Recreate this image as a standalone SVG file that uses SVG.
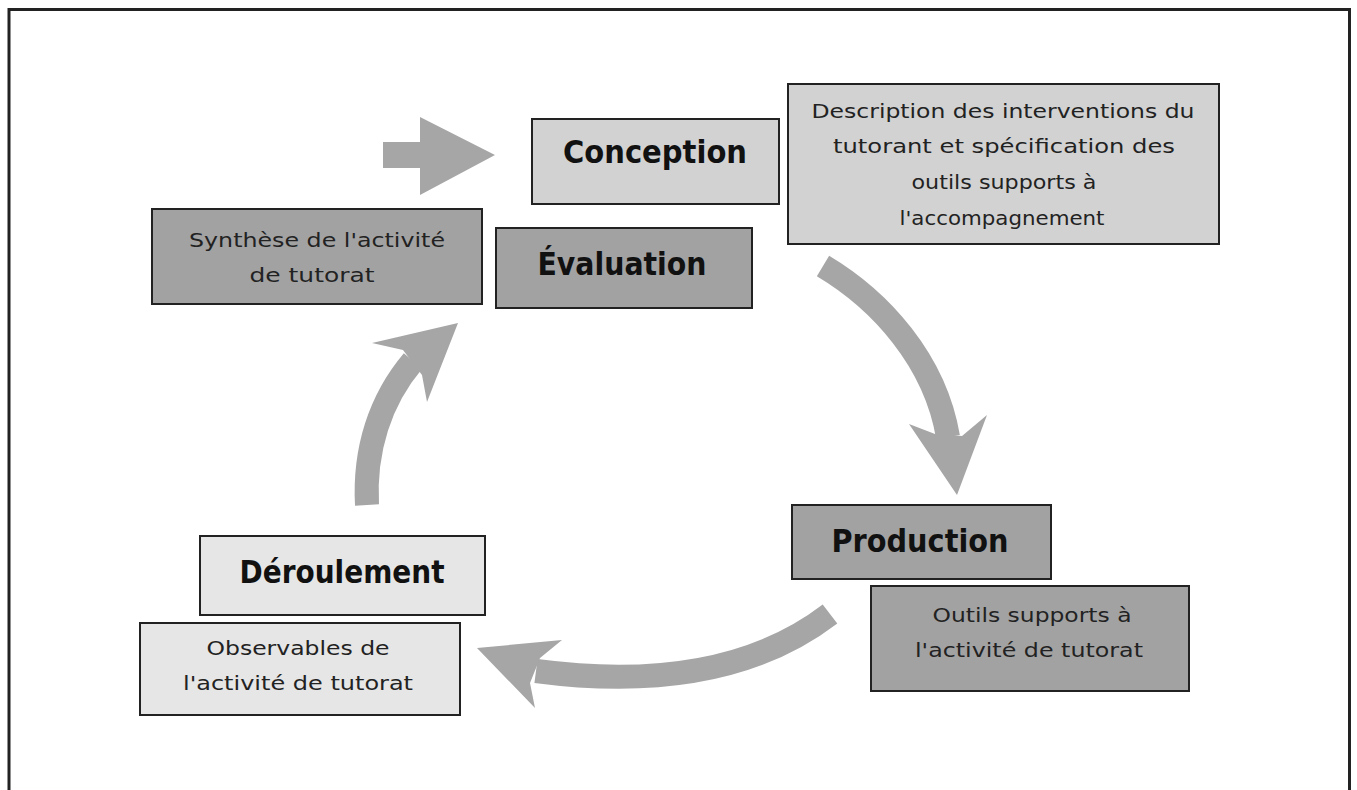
<svg xmlns="http://www.w3.org/2000/svg" width="1357" height="790" viewBox="0 0 1357 790">
<style>
.box{stroke:#222;stroke-width:2}
.light{fill:#e6e6e6}
.mid{fill:#d2d2d2}
.dark{fill:#a2a2a2}
.title{font-family:"Comic Sans MS","DejaVu Sans",sans-serif;font-weight:bold;font-size:32px;fill:#111;text-anchor:middle}
.small{font-family:"Comic Sans MS","DejaVu Sans",sans-serif;font-size:19px;fill:#222;text-anchor:middle}
.shaft{fill:none;stroke:#a6a6a6;stroke-width:24}
.head{fill:#a6a6a6}
</style>
<rect x="0" y="0" width="1357" height="790" fill="#fff"/>
<rect x="9" y="9.5" width="1340.5" height="800" fill="#fff" stroke="#222" stroke-width="3"/>

<g id="connectors">
  <polygon class="head" points="383,142 420,142 420,117 495,155 420,195 420,168 383,168"/>
  <path class="shaft" d="M823,266 C880,300 935,360 948,437"/>
  <polygon class="head" points="909,424 935,434 962,436 987,415 957,495"/>
  <path class="shaft" d="M830,614 C770,660 680,690 536,671"/>
  <polygon class="head" points="477,648 562,640 540,658 530,683 535,708"/>
  <path class="shaft" d="M367,505 C364,450 380,400 413,361"/>
  <polygon class="head" points="458,323 372,343 403,350 422,375 427,402"/>
</g>

<g id="conception">
  <rect class="box mid" x="532" y="119" width="247" height="85"/>
  <text class="title" x="655" y="163" textLength="184" lengthAdjust="spacingAndGlyphs">Conception</text>
</g>
<g id="description">
  <rect class="box mid" x="788" y="84" width="431" height="160"/>
  <text class="small" x="1003" y="118" textLength="383" lengthAdjust="spacingAndGlyphs">Description des interventions du</text>
  <text class="small" x="1004" y="153" textLength="342" lengthAdjust="spacingAndGlyphs">tutorant et spécification des</text>
  <text class="small" x="1004" y="189" textLength="185" lengthAdjust="spacingAndGlyphs">outils supports à</text>
  <text class="small" x="1002" y="225" textLength="205" lengthAdjust="spacingAndGlyphs">l'accompagnement</text>
</g>
<g id="synthese">
  <rect class="box dark" x="152" y="209" width="330" height="95"/>
  <text class="small" x="317" y="247" textLength="256" lengthAdjust="spacingAndGlyphs">Synthèse de l'activité</text>
  <text class="small" x="312" y="282" textLength="125" lengthAdjust="spacingAndGlyphs">de tutorat</text>
</g>
<g id="evaluation">
  <rect class="box dark" x="496" y="228" width="256" height="80"/>
  <text class="title" x="622" y="275" textLength="169" lengthAdjust="spacingAndGlyphs">Évaluation</text>
</g>
<g id="production">
  <rect class="box dark" x="792" y="505" width="259" height="74"/>
  <text class="title" x="920" y="552" textLength="177" lengthAdjust="spacingAndGlyphs">Production</text>
</g>
<g id="outils">
  <rect class="box dark" x="871" y="586" width="318" height="105"/>
  <text class="small" x="1032" y="622" textLength="199" lengthAdjust="spacingAndGlyphs">Outils supports à</text>
  <text class="small" x="1029" y="657" textLength="228" lengthAdjust="spacingAndGlyphs">l'activité de tutorat</text>
</g>
<g id="deroulement">
  <rect class="box light" x="200" y="536" width="285" height="79"/>
  <text class="title" x="342" y="583" textLength="205" lengthAdjust="spacingAndGlyphs">Déroulement</text>
</g>
<g id="observables">
  <rect class="box light" x="140" y="623" width="320" height="92"/>
  <text class="small" x="298" y="655" textLength="183" lengthAdjust="spacingAndGlyphs">Observables de</text>
  <text class="small" x="298" y="690" textLength="230" lengthAdjust="spacingAndGlyphs">l'activité de tutorat</text>
</g>
</svg>
